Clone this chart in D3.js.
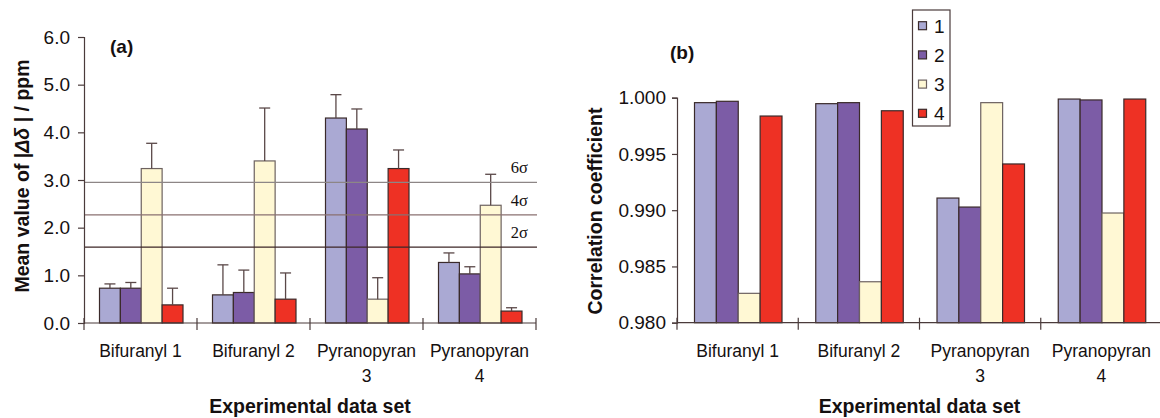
<!DOCTYPE html>
<html><head><meta charset="utf-8">
<script src="https://cdn.jsdelivr.net/npm/d3@7/dist/d3.min.js"></script>
<style>
html,body{margin:0;padding:0;background:#fff;}
svg{display:block;font-family:"Liberation Sans",Arial,sans-serif;}
</style></head>
<body><svg id="chart" width="1160" height="418"></svg>
<script>
// ---------- data ----------
const categories = [["Bifuranyl 1"], ["Bifuranyl 2"], ["Pyranopyran", "3"], ["Pyranopyran", "4"]];
const seriesNames = ["1", "2", "3", "4"];
const seriesColors = ["#aaa9d3", "#7c5ca6", "#fff8d4", "#ee3124"];

// panel (a): mean |Δδ| per series, across the 4 data sets
const meanS1 = [0.73, 0.59, 4.30, 1.27];
const meanS2 = [0.73, 0.64, 4.07, 1.03];
const meanS3 = [3.24, 3.40, 0.50, 2.47];
const meanS4 = [0.38, 0.50, 3.24, 0.25];
// upper error amounts
const errS1 = [0.09, 0.63, 0.49, 0.20];
const errS2 = [0.12, 0.47, 0.42, 0.15];
const errS3 = [0.53, 1.11, 0.45, 0.65];
const errS4 = [0.35, 0.55, 0.39, 0.07];
const sigmaValues = [1.59, 2.27, 2.95];
const sigmaLabels = ["2σ", "4σ", "6σ"];
const ticksA = [0, 1, 2, 3, 4, 5, 6];

// panel (b): correlation coefficient
const corrS1 = [0.99956, 0.99947, 0.99108, 0.99988];
const corrS2 = [0.99968, 0.99956, 0.99028, 0.99980];
const corrS3 = [0.98261, 0.98364, 0.99956, 0.98975];
const corrS4 = [0.99837, 0.99884, 0.99411, 0.99988];
const ticksB = [0.980, 0.985, 0.990, 0.995, 1.000];

const meansA = [meanS1, meanS2, meanS3, meanS4];
const errsA = [errS1, errS2, errS3, errS4];
const corrB = [corrS1, corrS2, corrS3, corrS4];

// ---------- drawing ----------
const svg = d3.select("#chart");
const axisColor = "#4a3b3b";
const textColor = "#151010";
const catIdx = d3.range(categories.length);
const strokeFor = i => i === 2 ? "#6d6260" : "#3a2a2a";

function panel(opts) {
  const g = svg.append("g");
  const x0 = d3.scaleBand().domain(catIdx).range(opts.xRange).padding(0);
  const x1 = d3.scaleBand().domain(d3.range(seriesNames.length)).range(opts.groupRange).padding(0);
  const y = d3.scaleLinear().domain(opts.yDomain).range(opts.yRange);
  seriesNames.forEach((s, si) => {
    g.selectAll(null).data(catIdx).enter().append("rect")
      .attr("x", c => x0(c) + x1(si))
      .attr("width", x1.bandwidth())
      .attr("y", c => y(opts.values[si][c]))
      .attr("height", c => y(opts.yDomain[0]) - y(opts.values[si][c]))
      .attr("fill", seriesColors[si])
      .attr("stroke", strokeFor(si))
      .attr("stroke-width", 1.2);
  });
  return {g, x0, x1, y};
}

// ===== Panel (a) =====
const A = panel({xRange: [84, 536], groupRange: [15.5, 99], yDomain: [0, 6], yRange: [323, 37], values: meansA});

seriesNames.forEach((s, si) => {
  catIdx.forEach(c => {
    const cx = A.x0(c) + A.x1(si) + A.x1.bandwidth() / 2;
    const top = A.y(meansA[si][c] + errsA[si][c]);
    const base = A.y(meansA[si][c]);
    A.g.append("line").attr("x1", cx).attr("x2", cx).attr("y1", base).attr("y2", top)
      .attr("stroke", "#5a4848").attr("stroke-width", 1.3);
    A.g.append("line").attr("x1", cx - 5.5).attr("x2", cx + 5.5).attr("y1", top).attr("y2", top)
      .attr("stroke", "#5a4848").attr("stroke-width", 1.3);
  });
});

const sigmaColors = ["#3d2626", "#8a7070", "#8d8686"];
sigmaValues.forEach((v, i) => {
  A.g.append("line").attr("x1", 84).attr("x2", 537).attr("y1", A.y(v)).attr("y2", A.y(v))
    .attr("stroke", sigmaColors[i]).attr("stroke-width", 1.2);
  A.g.append("text").attr("x", 528).attr("y", A.y(v) - 9)
    .attr("text-anchor", "end").attr("font-family", "'Liberation Serif','DejaVu Serif',serif")
    .attr("font-size", 16.5).attr("fill", textColor).text(sigmaLabels[i]);
});

const yAxisA = A.g.append("g").attr("transform", "translate(84,0)")
  .call(d3.axisLeft(A.y).tickValues(ticksA).tickFormat(d3.format(".1f")).tickSize(6).tickPadding(8));
yAxisA.select(".domain").attr("stroke", axisColor).attr("stroke-width", 1.2);
yAxisA.selectAll(".tick line").attr("stroke", axisColor).attr("stroke-width", 1.2);
yAxisA.selectAll(".tick text").attr("font-size", 19).attr("fill", textColor)
  .attr("font-family", "'Liberation Sans',Arial,sans-serif");

function xAxis(P, x0, xr, yBase) {
  const ax = P.g.append("g");
  ax.append("line").attr("x1", xr[0]).attr("x2", xr[1]).attr("y1", yBase).attr("y2", yBase)
    .attr("stroke", axisColor).attr("stroke-width", 1.2);
  const bounds = catIdx.map(c => x0(c)).concat([x0(catIdx.length - 1) + x0.bandwidth()]);
  bounds.forEach(b => {
    ax.append("line").attr("x1", b).attr("x2", b).attr("y1", yBase - 5).attr("y2", yBase + 7)
      .attr("stroke", axisColor).attr("stroke-width", 1.2);
  });
  catIdx.forEach(c => {
    const t = ax.append("text").attr("x", x0(c) + x0.bandwidth() / 2).attr("y", 357)
      .attr("text-anchor", "middle").attr("font-size", 17.5).attr("fill", textColor);
    categories[c].forEach((line, li) => {
      t.append("tspan").attr("x", x0(c) + x0.bandwidth() / 2).attr("dy", li === 0 ? 0 : 25).text(line);
    });
  });
  ax.append("text").attr("x", (xr[0] + xr[1]) / 2).attr("y", 413)
    .attr("text-anchor", "middle").attr("font-size", 19.5).attr("font-weight", "bold")
    .attr("fill", textColor).text("Experimental data set");
}
xAxis(A, A.x0, [84, 536], 323);

const ytA = svg.append("text").attr("transform", "translate(29,176) rotate(-90)")
  .attr("text-anchor", "middle").attr("font-size", 19.5).attr("font-weight", "bold").attr("fill", textColor);
ytA.append("tspan").text("Mean value of |");
ytA.append("tspan").attr("font-style", "italic").text("Δδ");
ytA.append("tspan").text(" | / ppm");

svg.append("text").attr("x", 110).attr("y", 53).attr("font-size", 19).attr("font-weight", "bold")
  .attr("fill", textColor).text("(a)");

// ===== Panel (b) =====
const B = panel({xRange: [677, 1162], groupRange: [17.5, 105], yDomain: [0.98, 1.0], yRange: [322.7, 97.7], values: corrB});

const yAxisB = B.g.append("g").attr("transform", "translate(677,0)")
  .call(d3.axisLeft(B.y).tickValues(ticksB).tickFormat(d3.format(".3f")).tickSize(5).tickPadding(6));
yAxisB.select(".domain").attr("stroke", axisColor).attr("stroke-width", 1.2);
yAxisB.selectAll(".tick line").attr("stroke", axisColor).attr("stroke-width", 1.2);
yAxisB.selectAll(".tick text").attr("font-size", 19).attr("fill", textColor)
  .attr("font-family", "'Liberation Sans',Arial,sans-serif");

xAxis(B, B.x0, [677, 1162], 322.7);

svg.append("text").attr("transform", "translate(602,211) rotate(-90)")
  .attr("text-anchor", "middle").attr("font-size", 19.5).attr("font-weight", "bold")
  .attr("fill", textColor).text("Correlation coefficient");

svg.append("text").attr("x", 670).attr("y", 59).attr("font-size", 19).attr("font-weight", "bold")
  .attr("fill", textColor).text("(b)");

// legend
const leg = svg.append("g");
leg.append("rect").attr("x", 912.5).attr("y", 10).attr("width", 37.5).attr("height", 116)
  .attr("fill", "#fff").attr("stroke", "#4a3b3b").attr("stroke-width", 1.2);
const legY = d3.scalePoint().domain(seriesNames).range([25.7, 113.3]);
seriesNames.forEach((s, i) => {
  leg.append("rect").attr("x", 918.5).attr("y", legY(s) - 4).attr("width", 8).attr("height", 8)
    .attr("fill", seriesColors[i]).attr("stroke", strokeFor(i)).attr("stroke-width", 1.2);
  leg.append("text").attr("x", 934).attr("y", legY(s) + 7).attr("font-size", 19)
    .attr("fill", textColor).text(s);
});
</script></body></html>
